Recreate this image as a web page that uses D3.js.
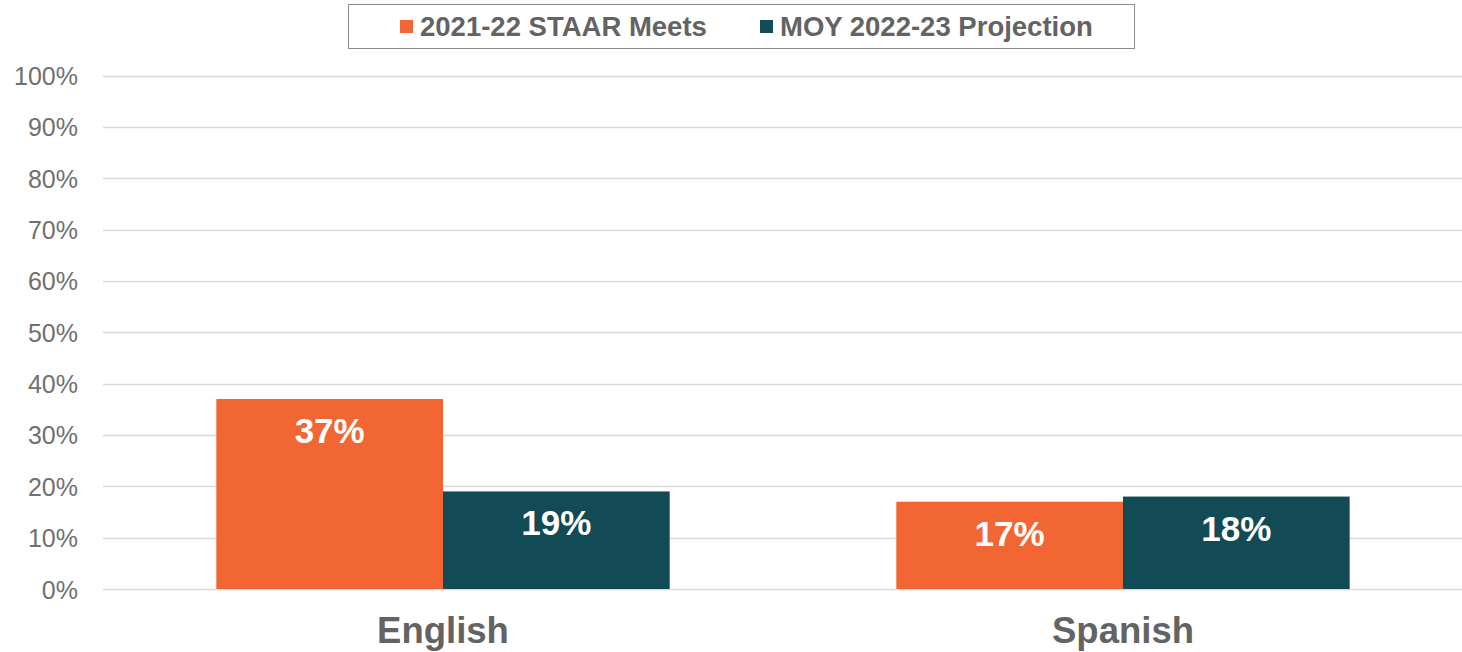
<!DOCTYPE html>
<html>
<head>
<meta charset="utf-8">
<script src="https://cdn.jsdelivr.net/npm/d3@7"></script>
<style>
  body { margin: 0; background: #fff; }
  svg { display: block; }
</style>
</head>
<body>
<div class="container"></div>
<script>
// chart data
var categories = ['English', 'Spanish'];
var seriesNames = ['2021-22 STAAR Meets', 'MOY 2022-23 Projection'];
var staarMeets = [37, 17];
var moyProjection = [19, 18];
var yTicks = [0, 10, 20, 30, 40, 50, 60, 70, 80, 90, 100];

var colors = ['#F26633', '#124A55'];

var opts = {
  width: 1462,
  height: 652,
  left: 103,
  right: 1463,
  top: 75.5,
  bottom: 589
};

var svg = d3.select('.container').append('svg')
            .attr('width', opts.width)
            .attr('height', opts.height);

var y = d3.scaleLinear().domain([0, 100]).range([opts.bottom, opts.top]);

var x0 = d3.scaleBand()
           .domain(categories)
           .range([opts.left, opts.right])
           .paddingInner(0.3333)
           .paddingOuter(0.16667);

var x1 = d3.scaleBand()
           .domain(seriesNames)
           .range([0, x0.bandwidth()]);

// gridlines
svg.append('g')
   .selectAll('line')
   .data(yTicks)
   .enter()
   .append('line')
   .attr('x1', opts.left)
   .attr('x2', opts.right)
   .attr('y1', function(d){ return Math.round(y(d)) + 0.5; })
   .attr('y2', function(d){ return Math.round(y(d)) + 0.5; })
   .attr('stroke', '#d9d9d9')
   .attr('stroke-width', 1.3);

// y axis labels
var yAxis = d3.axisLeft(y)
              .tickValues(yTicks)
              .tickSize(0)
              .tickPadding(0)
              .tickFormat(function(d){ return d + '%'; });

var yg = svg.append('g')
            .attr('transform', 'translate(78,0)')
            .call(yAxis);
yg.select('.domain').remove();
yg.selectAll('text')
  .attr('font-family', 'Liberation Sans, Arial, sans-serif')
  .attr('font-size', 25)
  .attr('fill', '#707070')
  .attr('dy', '0.36em');

// bars
var rows = categories.map(function(c, i){
  return { cat: c, values: [staarMeets[i], moyProjection[i]] };
});

var groups = svg.selectAll('g.cat')
                .data(rows)
                .enter()
                .append('g')
                .attr('class', 'cat')
                .attr('transform', function(d){ return 'translate(' + x0(d.cat) + ',0)'; });

var bars = groups.selectAll('g.bar')
                 .data(function(d){
                   return d.values.map(function(v, j){ return { name: seriesNames[j], value: v, j: j }; });
                 })
                 .enter()
                 .append('g')
                 .attr('class', 'bar');

bars.append('rect')
    .attr('x', function(d){ return x1(d.name); })
    .attr('y', function(d){ return y(d.value); })
    .attr('width', x1.bandwidth())
    .attr('height', function(d){ return y(0) - y(d.value); })
    .attr('fill', function(d){ return colors[d.j]; });

bars.append('text')
    .attr('x', function(d){ return x1(d.name) + x1.bandwidth() / 2; })
    .attr('y', function(d){ return y(d.value) + 44; })
    .attr('text-anchor', 'middle')
    .attr('font-family', 'Liberation Sans, Arial, sans-serif')
    .attr('font-weight', 'bold')
    .attr('font-size', 35)
    .attr('fill', '#fff')
    .text(function(d){ return d.value + '%'; });

// category labels
svg.append('g')
   .selectAll('text')
   .data(categories)
   .enter()
   .append('text')
   .attr('x', function(d){ return x0(d) + x0.bandwidth() / 2; })
   .attr('y', 643)
   .attr('text-anchor', 'middle')
   .attr('font-family', 'Liberation Sans, Arial, sans-serif')
   .attr('font-weight', 'bold')
   .attr('font-size', 36.5)
   .attr('fill', '#636363')
   .text(function(d){ return d; });

// legend
var legend = svg.append('g');
legend.append('rect')
      .attr('x', 348.5)
      .attr('y', 4.5)
      .attr('width', 786)
      .attr('height', 44)
      .attr('fill', '#fff')
      .attr('stroke', '#8c8c8c')
      .attr('stroke-width', 1);

var legendX = [400, 760];
var items = legend.selectAll('g.item')
                  .data(seriesNames)
                  .enter()
                  .append('g')
                  .attr('class', 'item')
                  .attr('transform', function(d, i){ return 'translate(' + legendX[i] + ',0)'; });

items.append('rect')
     .attr('x', 0)
     .attr('y', 20)
     .attr('width', 13)
     .attr('height', 13)
     .attr('fill', function(d, i){ return colors[i]; });

items.append('text')
     .attr('x', 20)
     .attr('y', 36)
     .attr('font-family', 'Liberation Sans, Arial, sans-serif')
     .attr('font-weight', 'bold')
     .attr('font-size', 27.5)
     .attr('fill', '#636363')
     .text(function(d){ return d; });
</script>
</body>
</html>
